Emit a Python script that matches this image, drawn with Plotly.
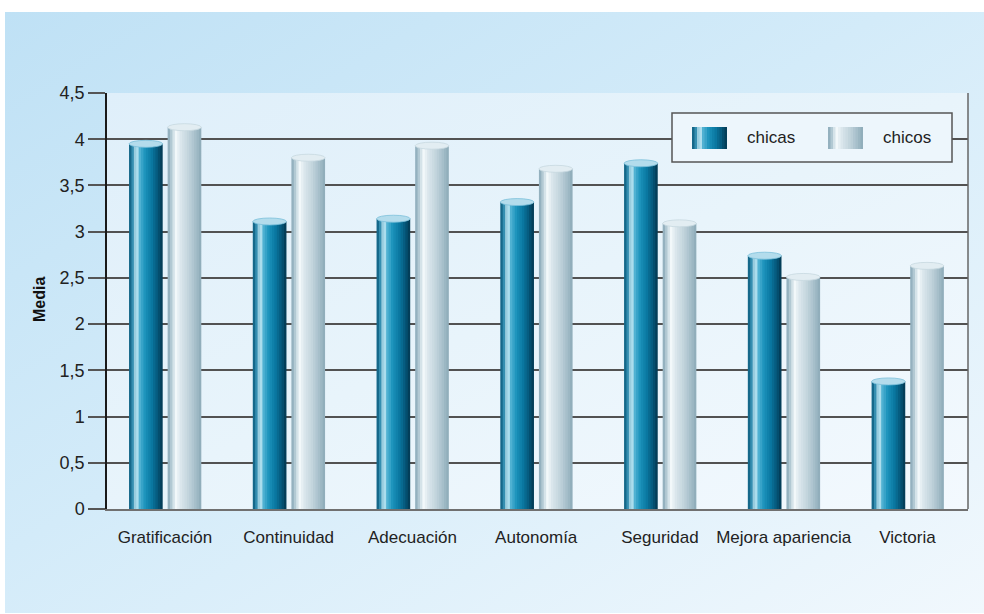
import base64
import plotly.graph_objects as go

categories = ["Gratificación", "Continuidad", "Adecuación", "Autonomía",
              "Seguridad", "Mejora apariencia", "Victoria"]
chicas = [3.95, 3.11, 3.14, 3.32, 3.74, 2.74, 1.38]
chicos = [4.13, 3.80, 3.93, 3.68, 3.09, 2.51, 2.63]
series_names = ["chicas", "chicos"]
y_ticks = [0, 0.5, 1, 1.5, 2, 2.5, 3, 3.5, 4, 4.5]

# ---- styling ----
FONT = "Liberation Sans"
N = 14
stops_chicas = [(0.0, "#0a5678"), (0.10, "#2a88ab"), (0.22, "#d2f0f9"), (0.32, "#4fb1d2"),
                (0.48, "#1a92bb"), (0.68, "#0a77a0"), (0.86, "#055678"), (1.0, "#02364f")]
stops_chicos = [(0.0, "#86a5b5"), (0.10, "#aec6d1"), (0.24, "#f4f9fb"), (0.40, "#d9e5eb"),
                (0.62, "#c2d4dc"), (0.85, "#a2bcc8"), (1.0, "#8ca9b7")]
top_fill = ["#b3dcec", "#e2edf2"]
top_line = ["#7cc0da", "#c6d8e0"]
offsets = [-0.29, 0.022]
bw = 0.272


def hex2rgb(h):
    h = h.lstrip("#")
    return tuple(int(h[i:i + 2], 16) for i in (0, 2, 4))


def grad(stops, t):
    for (p0, c0), (p1, c1) in zip(stops[:-1], stops[1:]):
        if p0 <= t <= p1:
            f = (t - p0) / (p1 - p0) if p1 > p0 else 0
            a, b = hex2rgb(c0), hex2rgb(c1)
            return "rgb(%d,%d,%d)" % tuple(round(a[i] + (b[i] - a[i]) * f) for i in range(3))
    return stops[-1][1]


def svg_uri(w, h, stops):
    st = "".join('<stop offset="%s" stop-color="%s"/>' % (o, c) for o, c in stops)
    svg = ('<svg xmlns="http://www.w3.org/2000/svg" width="%d" height="%d" viewBox="0 0 %d %d" '
           'preserveAspectRatio="none"><defs><linearGradient id="g" x1="0" y1="0" x2="1" y2="1">%s'
           '</linearGradient></defs><rect width="%d" height="%d" fill="url(#g)"/></svg>'
           % (w, h, w, h, st, w, h))
    return "data:image/svg+xml;base64," + base64.b64encode(svg.encode()).decode()


# plot area in pixels
W, H = 984, 614
L, R, T, B = 107, 16, 93, 105
PW, PH = W - L - R, H - T - B


def px(x):
    return (x - L) / PW


def py(y):
    return (H - B - y) / PH


x_idx = list(range(len(categories)))
fig = go.Figure()

shapes = []
for s, (vals, stops) in enumerate([(chicas, stops_chicas), (chicos, stops_chicos)]):
    sw = bw / N
    for k in range(N):
        t = (k + 0.5) / N
        wk = sw * 1.5 if k < N - 1 else sw
        fig.add_trace(go.Bar(
            x=x_idx, y=vals, offset=offsets[s] + k * sw, width=wk,
            marker=dict(color=grad(stops, t), line=dict(width=0)),
            showlegend=False, name=series_names[s], hoverinfo="skip" if k else "y+name"))
    for i, v in enumerate(vals):
        shapes.append(dict(type="circle", xref="x", yref="y", ysizemode="pixel", yanchor=v,
                           x0=i + offsets[s], x1=i + offsets[s] + bw, y0=-3.5, y1=3.5,
                           fillcolor=top_fill[s], line=dict(color=top_line[s], width=0.8),
                           layer="above"))

# right border of plot area
shapes.append(dict(type="line", xref="paper", yref="paper", x0=1, x1=1, y0=0, y1=1,
                   line=dict(color="#666666", width=1.5), layer="above"))

# legend box
shapes.append(dict(type="rect", xref="paper", yref="paper",
                   x0=px(672), x1=px(952), y0=py(162), y1=py(113),
                   fillcolor="#edf6fc", line=dict(color="#555555", width=1.5), layer="above"))
sw_pos = [(692, 727), (828, 863)]
for s, stops in enumerate([stops_chicas, stops_chicos]):
    a, b = sw_pos[s]
    for k in range(N):
        t = (k + 0.5) / N
        xa = a + (b - a) * k / N
        xb = a + (b - a) * (k + 1) / N + (0.6 if k < N - 1 else 0)
        shapes.append(dict(type="rect", xref="paper", yref="paper",
                           x0=px(xa), x1=px(xb), y0=py(149), y1=py(127),
                           fillcolor=grad(stops, t), line=dict(width=0), layer="above"))

annotations = [
    dict(text="chicas", xref="paper", yref="paper", x=px(745), y=py(138), xanchor="left",
         yanchor="middle", showarrow=False, font=dict(family=FONT, size=17, color="#222222")),
    dict(text="chicos", xref="paper", yref="paper", x=px(881), y=py(138), xanchor="left",
         yanchor="middle", showarrow=False, font=dict(family=FONT, size=17, color="#222222")),
    dict(text="<b>Media</b>", xref="paper", yref="paper", x=px(39), y=py(300), textangle=-90,
         xanchor="center", yanchor="middle", showarrow=False,
         font=dict(family=FONT, size=16, color="#111111")),
]

images = [
    dict(source=svg_uri(979, 601, [(0, "#bfe1f5"), (0.45, "#d3ebf9"), (1, "#f1f8fd")]),
         xref="paper", yref="paper", x=px(5), y=py(12), sizex=979 / PW, sizey=601 / PH,
         xanchor="left", yanchor="top", sizing="stretch", layer="below"),
    dict(source=svg_uri(PW, PH, [(0, "#dfeffa"), (0.5, "#e8f4fb"), (1, "#f3f9fe")]),
         xref="paper", yref="paper", x=0, y=1, sizex=1, sizey=1,
         xanchor="left", yanchor="top", sizing="stretch", layer="below"),
]

fig.update_layout(
    width=W, height=H,
    margin=dict(l=L, r=R, t=T, b=B),
    paper_bgcolor="white", plot_bgcolor="rgba(0,0,0,0)",
    barmode="overlay", separators=",.",
    shapes=shapes, annotations=annotations, images=images,
    showlegend=False,
    font=dict(family=FONT, size=17, color="#222222"),
    xaxis=dict(range=[-0.468, 6.489], tickmode="array", tickvals=x_idx, ticktext=categories,
               showgrid=False, zeroline=False, showline=True, linecolor="#707070", linewidth=1.5,
               ticks="outside", ticklen=12, tickcolor="rgba(0,0,0,0)",
               tickfont=dict(family=FONT, size=17, color="#222222"), fixedrange=True),
    yaxis=dict(range=[0, 4.5], tickmode="array", tickvals=y_ticks,
               showgrid=True, gridcolor="#525252", gridwidth=1.5, zeroline=False,
               showline=True, linecolor="#1a1a1a", linewidth=1.5,
               ticks="outside", ticklen=17, tickcolor="#555555", tickwidth=1.5,
               tickfont=dict(family=FONT, size=18, color="#222222"), fixedrange=True),
)

fig.write_html("out.html", config={"displayModeBar": False},
               post_script="document.body.style.margin='0';document.body.style.overflow='hidden';")
